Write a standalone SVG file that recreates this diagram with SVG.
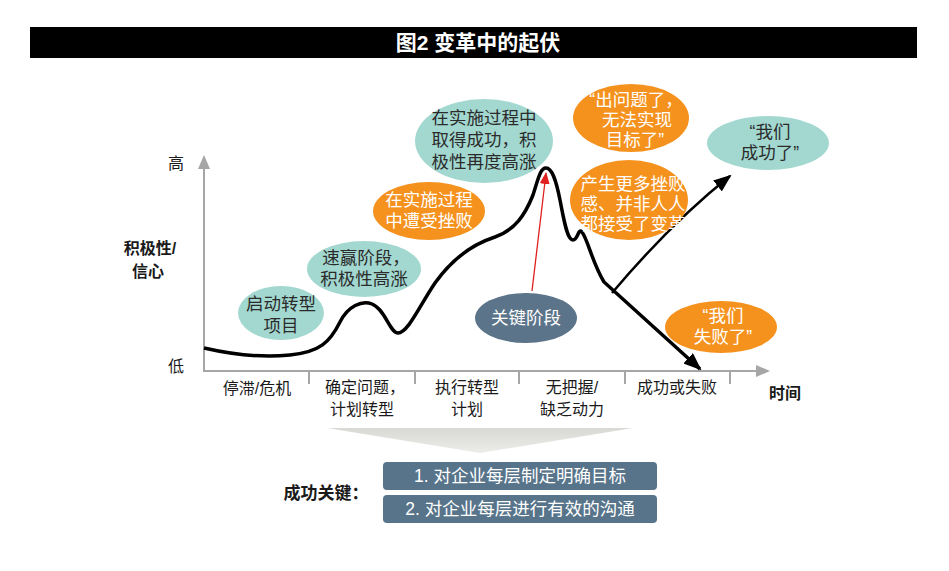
<svg xmlns="http://www.w3.org/2000/svg" width="949" height="571" viewBox="0 0 949 571">
<style>
text{font-family:"Liberation Sans","Noto Sans CJK SC",sans-serif;text-anchor:middle}
.b{font-size:17.5px}
.dk{fill:#2b2b2b}
.wt{fill:#ffffff}
.teal{fill:#a2d8d0}
.orange{fill:#f5921e}
.slate{fill:#5b7489}
.axis{stroke:#a6a6a6;stroke-width:2;fill:none}
.lab{font-size:16px;fill:#1a1a1a}
.bold{font-weight:bold}
.key{font-size:17.5px;fill:#fff}
</style>
<defs>
<marker id="ga" markerWidth="14" markerHeight="12" refX="12" refY="6" orient="auto" markerUnits="userSpaceOnUse"><path d="M0,0 L14,6 L0,12 z" fill="#a6a6a6"/></marker>
<marker id="ba" markerWidth="18" markerHeight="14" refX="16" refY="7" orient="auto" markerUnits="userSpaceOnUse"><path d="M0,0 L18,7 L0,14 z" fill="#000"/></marker>
<marker id="ra" markerWidth="12" markerHeight="10" refX="11" refY="5" orient="auto" markerUnits="userSpaceOnUse"><path d="M0,0 L12,5 L0,10 z" fill="#e0201e"/></marker>
<linearGradient id="gg" x1="0" y1="0" x2="0" y2="1"><stop offset="0" stop-color="#d8d8d4"/><stop offset="1" stop-color="#ececea"/></linearGradient>
</defs>
<rect width="949" height="571" fill="#fff"/>
<g id="title"><rect x="30" y="27" width="887" height="31" fill="#000"/><text x="478" y="50" font-size="21" font-weight="bold" fill="#fff">图2  变革中的起伏</text></g>
<g id="axes">
<line class="axis" x1="204" y1="372" x2="204" y2="157" marker-end="url(#ga)"/>
<line class="axis" x1="203" y1="371" x2="768" y2="371" marker-end="url(#ga)"/>
<path class="axis" d="M309,371V384M415,371V384M519,371V384M625,371V384M730,371V384"/>
<text class="lab" x="176" y="169">高</text>
<text class="lab" x="176" y="372">低</text>
<text class="lab bold" x="150" y="254">积极性/</text>
<text class="lab bold" x="148" y="277">信心</text>
<text class="lab" x="257" y="394">停滞/危机</text>
<text class="lab" x="365" y="393">确定问题，</text><text class="lab" x="362" y="415">计划转型</text>
<text class="lab" x="467" y="393">执行转型</text><text class="lab" x="467" y="415">计划</text>
<text class="lab" x="572" y="393">无把握/</text><text class="lab" x="572" y="415">缺乏动力</text>
<text class="lab" x="677" y="393">成功或失败</text>
<text class="lab bold" x="785" y="399">时间</text>
</g>
<g id="connectors" fill="none">
<path d="M204,348 C230,354 260,358 290,355 C320,352 330,342 340,322 C348,306 362,300 372,304 C385,309 390,333 398,333 C408,333 420,305 435,283 C450,262 470,245 495,237 C515,230 525,215 533,195 C538,180 540,168 546,168 C552,168 556,180 560,200 C564,220 567,240 573,240 C578,240 578,228 582,232 C588,240 592,262 604,282 L700,369" stroke="#000" stroke-width="3.5" marker-end="url(#ba)"/>
<path d="M612,293 Q672,222 730,176" stroke="#000" stroke-width="2.5" marker-end="url(#ba)"/>
<line x1="532" y1="291" x2="546" y2="173" stroke="#e0201e" stroke-width="1.3" marker-end="url(#ra)"/>
</g>
<g id="n1"><ellipse class="teal" cx="281" cy="313" rx="43" ry="27"/><text class="b dk" x="281" y="310">启动转型</text><text class="b dk" x="281" y="332">项目</text></g>
<g id="n2"><ellipse class="teal" cx="364" cy="269" rx="57" ry="28"/><text class="b dk" x="366" y="264">速赢阶段，</text><text class="b dk" x="364" y="285">积极性高涨</text></g>
<g id="n3"><ellipse class="orange" cx="429" cy="211" rx="56" ry="29"/><text class="b wt" x="429" y="206">在实施过程</text><text class="b wt" x="429" y="227">中遭受挫败</text></g>
<g id="n4"><ellipse class="teal" cx="484" cy="141" rx="69" ry="42"/><text class="b dk" x="484" y="124">在实施过程中</text><text class="b dk" x="484" y="146">取得成功，积</text><text class="b dk" x="484" y="168">极性再度高涨</text></g>
<g id="n5"><ellipse class="slate" cx="526" cy="318" rx="51" ry="25"/><text class="b wt" x="526" y="324">关键阶段</text></g>
<g id="n6"><ellipse class="orange" cx="631" cy="118" rx="58" ry="34"/><text class="b wt" x="636" y="106">“出问题了，</text><text class="b wt" x="637" y="126">无法实现</text><text class="b wt" x="635" y="146">目标了”</text></g>
<g id="n7"><ellipse class="orange" cx="629" cy="200" rx="59" ry="40"/><text class="b wt" x="633" y="190">产生更多挫败</text><text class="b wt" x="633" y="210">感、并非人人</text><text class="b wt" x="633" y="230">都接受了变革</text></g>
<g id="n8"><ellipse class="teal" cx="768" cy="143" rx="61" ry="27"/><text class="b dk" x="770" y="138">“我们</text><text class="b dk" x="770" y="159">成功了”</text></g>
<g id="n9"><ellipse class="orange" cx="721" cy="327" rx="56" ry="26"/><text class="b wt" x="723" y="322">“我们</text><text class="b wt" x="723" y="343">失败了”</text></g>
<g id="keys">
<polygon points="327,428 633,428 480,453" fill="url(#gg)"/>
<text x="326" y="499" font-size="17" font-weight="bold" fill="#1a1a1a">成功关键：</text>
<rect x="383" y="462" width="274" height="28" rx="4" fill="#57748a"/>
<text class="key" x="520" y="482">1. 对企业每层制定明确目标</text>
<rect x="383" y="495" width="274" height="28" rx="4" fill="#57748a"/>
<text class="key" x="520" y="515">2. 对企业每层进行有效的沟通</text>
</g>
</svg>
